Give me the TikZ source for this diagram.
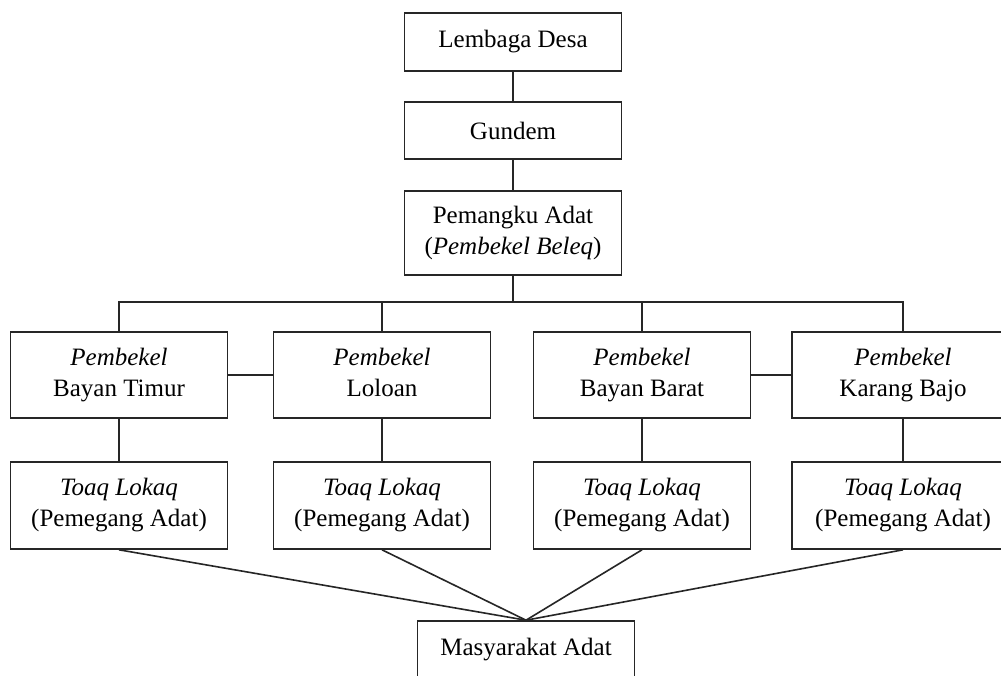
\documentclass[tikz,border=0pt]{standalone}
\usepackage{fontspec}
\setmainfont{Liberation Serif}

\begin{document}
\begin{tikzpicture}[x=1pt,y=-1pt,line width=1.6pt,draw=black!85]

      \clip (0,0) rectangle (1001,675);
      \fill[white] (0,0) rectangle (1001,675);

      \begin{scope}[every node/.style={rectangle,draw,align=center,
          minimum width=217pt,inner sep=2pt,
          font=\fontsize{25}{31}\selectfont}]
        \node[minimum height=58pt] (1)  at (513,42)    {Lembaga Desa};
        \node[minimum height=57pt] (2)  at (513,130.5) {Gundem};
        \node[minimum height=84pt] (3)  at (513,233)   {Pemangku Adat\\(\textit{Pembekel Beleq})};

        \node[minimum height=86pt] (4)  at (119,375)   {\textit{Pembekel}\\Bayan Timur};
        \node[minimum height=86pt] (5)  at (382,375)   {\textit{Pembekel}\\Loloan\vphantom{y}};
        \node[minimum height=86pt] (6)  at (642,375)   {\textit{Pembekel}\\Bayan Barat};
        \node[minimum height=86pt,minimum width=222pt] (7)  at (903,375)   {\textit{Pembekel}\\Karang Bajo};

        \node[minimum height=87pt] (8)  at (119,505.5) {\textit{Toaq Lokaq}\\(Pemegang Adat)};
        \node[minimum height=87pt] (9)  at (382,505.5) {\textit{Toaq Lokaq}\\(Pemegang Adat)};
        \node[minimum height=87pt] (10) at (642,505.5) {\textit{Toaq Lokaq}\\(Pemegang Adat)};
        \node[minimum height=87pt,minimum width=222pt] (11) at (903,505.5) {\textit{Toaq Lokaq}\\(Pemegang Adat)};

        \node[minimum height=58pt] (12) at (526,650)   {Masyarakat Adat};
      \end{scope}

      \coordinate (bus) at (513,302);

      \begin{scope}[every edge/.style={draw}]
        \path (1)  edge (2);
        \path (2)  edge (3);
        \path (4)  edge (5);
        \path (6)  edge (7);
        \path (4)  edge (8);
        \path (5)  edge (9);
        \path (6)  edge (10);
        \path (7)  edge (11);
        \path (8.south)  edge (12.north);
        \path (9.south)  edge (12.north);
        \path (10.south) edge (12.north);
        \path (11.south) edge (12.north);
      \end{scope}

      \draw (3.south) -- (bus);
      \draw (4.north) |- (bus) -| (7.north);
      \draw (5.north) -- (5.north |- bus);
      \draw (6.north) -- (6.north |- bus);

    \end{tikzpicture}
\end{document}
